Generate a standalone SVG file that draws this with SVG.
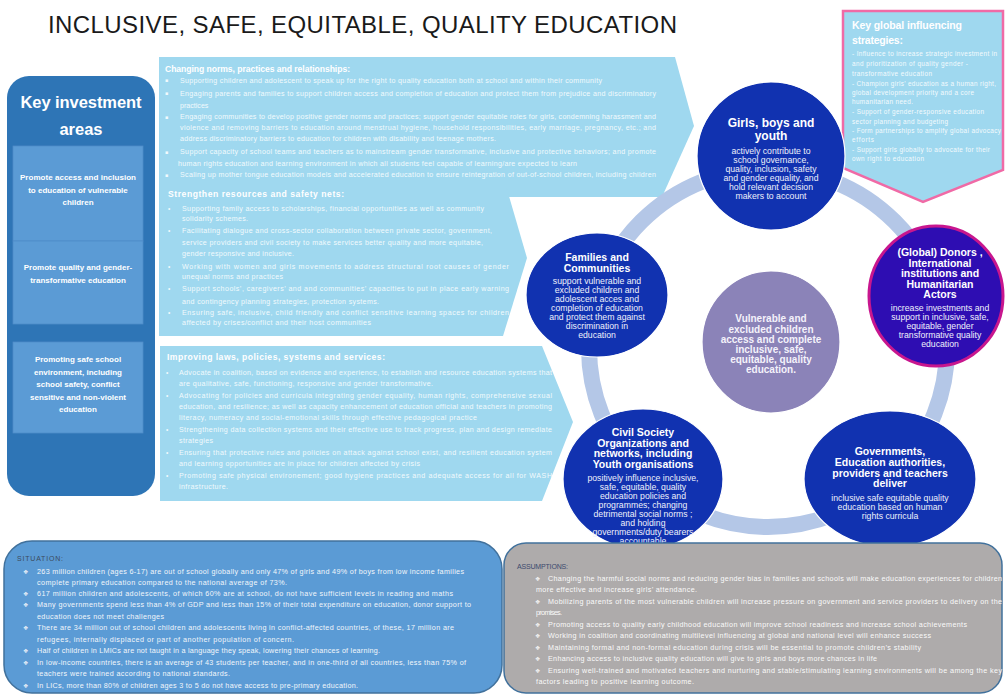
<svg xmlns="http://www.w3.org/2000/svg" width="1005" height="696" viewBox="0 0 1005 696">
<style>
text{font-family:"Liberation Sans",Arial,sans-serif}
.title{font-size:24px;fill:#1a1a1a}
.arrow{fill:#9fd8ef}
.hd{font-size:8.6px;font-weight:bold;fill:#ffffff}
.bd{font-size:7.1px;fill:#f2fafd}
.bl{font-size:6.5px;fill:#f2fafd}
.sq{font-family:"DejaVu Sans",sans-serif;font-size:5px;fill:#f2fafd}
.kg{font-size:6.4px;fill:#f4fbfe}
.kgh{font-size:10.5px;font-weight:bold;fill:#ffffff}
.panel{fill:#2e75b6}
.ibox{fill:#5b9bd5;stroke:#4f8cc8;stroke-width:0.8}
.ibt{font-size:8px;font-weight:bold;fill:#ffffff;text-anchor:middle}
.kih{font-size:16.5px;font-weight:bold;fill:#ffffff;text-anchor:middle}
.dark{fill:#1132b0;stroke:#ffffff;stroke-width:1.2}
.ct{font-size:10.5px;font-weight:bold;fill:#ffffff;text-anchor:middle}
.cb{font-size:8.7px;fill:#eef0fb;text-anchor:middle}
.vt{font-size:10px;font-weight:bold;fill:#f4f2fb;text-anchor:middle}
.st{font-size:7.2px;fill:#f2f6fb}
.dia{font-family:"DejaVu Sans",sans-serif;font-size:6px;fill:#e6eef8}
.as{font-size:7.2px;fill:#fafafa}
.adia{font-family:"DejaVu Sans",sans-serif;font-size:6px;fill:#f2f2f2}
</style>

<rect width="1005" height="696" fill="#ffffff"/>

<text class="title" x="48" y="33" textLength="629">INCLUSIVE, SAFE, EQUITABLE, QUALITY EDUCATION</text>

<!-- Left panel -->
<g id="key-investment-areas">
  <rect class="panel" x="7" y="76" width="148" height="420" rx="22"/>
  <text class="kih" x="81" y="108" textLength="121">Key investment</text>
  <text class="kih" x="81" y="135">areas</text>
  <g id="area-access">
    <rect class="ibox" x="13" y="146" width="130" height="95"/>
    <text class="ibt" x="78" y="180" textLength="116">Promote access and inclusion</text>
    <text class="ibt" x="78" y="193">to education of vulnerable</text>
    <text class="ibt" x="78" y="205">children</text>
  </g>
  <g id="area-quality">
    <rect class="ibox" x="13" y="241" width="130" height="83"/>
    <text class="ibt" x="78" y="270">Promote quality and gender-</text>
    <text class="ibt" x="78" y="283">transformative education</text>
  </g>
  <g id="area-safe">
    <rect class="ibox" x="13" y="342" width="130" height="91"/>
    <text class="ibt" x="78" y="362">Promoting safe school</text>
    <text class="ibt" x="78" y="375">environment, including</text>
    <text class="ibt" x="78" y="387">school safety, conflict</text>
    <text class="ibt" x="78" y="400">sensitive and non-violent</text>
    <text class="ibt" x="78" y="412">education</text>
  </g>
</g>

<!-- Arrow 1 -->
<g id="changing-norms">
  <polygon class="arrow" points="159,57 675,57 694,126 662,197 159,197"/>
  <text class="hd" x="165" y="72" textLength="185">Changing norms, practices and relationships:</text>
  <text class="sq" x="165" y="82">▪</text>
  <text class="bd" x="180" y="82.5" textLength="422">Supporting children and adolescent to speak up for the right to quality education both at school and within their community</text>
  <text class="sq" x="165" y="95">▪</text>
  <text class="bd" x="180" y="95.5" textLength="476">Engaging parents and families to support children access and completion of education and protect them from prejudice and discriminatory</text>
  <text class="bd" x="180" y="108">practices</text>
  <text class="sq" x="165" y="118.5">▪</text>
  <text class="bd" x="180" y="119" textLength="476">Engaging communities to develop positive gender norms and practices; support gender equitable roles for girls, condemning harassment and</text>
  <text class="bd" x="180" y="129.5" textLength="476">violence and removing barriers to education around menstrual hygiene, household responsibilities, early marriage, pregnancy, etc.; and</text>
  <text class="bd" x="180" y="141" textLength="316">address discriminatory barriers to education for children with disability and teenage mothers.</text>
  <text class="sq" x="165" y="153.5">▪</text>
  <text class="bd" x="180" y="154" textLength="476">Support capacity of school teams and teachers as to mainstream gender transformative, inclusive and protective behaviors; and promote</text>
  <text class="bd" x="178" y="166" textLength="399">human rights education and learning environment in which all students feel capable of learning/are expected to learn</text>
  <text class="sq" x="165" y="176.5">▪</text>
  <text class="bd" x="180" y="177" textLength="476">Scaling up mother tongue education models and accelerated education to ensure reintegration of out-of-school children, including children</text>
</g>

<!-- Arrow 2 -->
<g id="strengthen-resources">
  <polygon class="arrow" points="159,186 506,186 527,258 503,336 159,336"/>
  <text class="hd" x="168" y="197" textLength="176">Strengthen resources and safety nets:</text>
  <text class="bl" x="168" y="210.5">•</text>
  <text class="bd" x="182" y="210.5" textLength="302">Supporting family access to scholarships, financial opportunities as well as community</text>
  <text class="bd" x="182" y="221" textLength="66">solidarity schemes.</text>
  <text class="bl" x="168" y="233">•</text>
  <text class="bd" x="182" y="233" textLength="310">Facilitating dialogue and cross-sector collaboration between private sector, government,</text>
  <text class="bd" x="182" y="244.5" textLength="301">service providers and civil society to make services better quality and more equitable,</text>
  <text class="bd" x="182" y="256" textLength="112">gender responsive and inclusive.</text>
  <text class="bl" x="168" y="268.5">•</text>
  <text class="bd" x="182" y="268.5" textLength="327">Working with women and girls movements to address structural root causes of gender</text>
  <text class="bd" x="182" y="279" textLength="101">unequal norms and practices</text>
  <text class="bl" x="168" y="291">•</text>
  <text class="bd" x="182" y="291" textLength="327">Support schools’, caregivers’ and and communities’ capacities to put in place early warning</text>
  <text class="bd" x="182" y="303.5" textLength="197">and contingency planning strategies, protection systems.</text>
  <text class="bl" x="168" y="314.5">•</text>
  <text class="bd" x="182" y="314.5" textLength="327">Ensuring safe, inclusive, child friendly and conflict sensitive learning spaces for children</text>
  <text class="bd" x="182" y="325" textLength="189">affected by crises/conflict and their host communities</text>
</g>

<!-- Arrow 3 -->
<g id="improving-laws">
  <polygon class="arrow" points="160,346 542,346 573,422 542,501 160,501"/>
  <text class="hd" x="167" y="360" textLength="218">Improving laws, policies, systems and services:</text>
  <text class="bl" x="166" y="374.5">•</text>
  <text class="bd" x="179" y="374.5" textLength="373">Advocate in coalition, based on evidence and experience, to establish and resource education systems that</text>
  <text class="bd" x="179" y="386" textLength="254">are qualitative, safe, functioning, responsive and gender transformative.</text>
  <text class="bl" x="166" y="397.5">•</text>
  <text class="bd" x="179" y="397.5" textLength="373">Advocating for policies and curricula integrating gender equality, human rights, comprehensive sexual</text>
  <text class="bd" x="179" y="408.5" textLength="373">education, and resilience; as well as capacity enhancement of education official and teachers in promoting</text>
  <text class="bd" x="179" y="419.5" textLength="298">literacy, numeracy and social-emotional skills through effective pedagogical practice</text>
  <text class="bl" x="166" y="431.5">•</text>
  <text class="bd" x="179" y="431.5" textLength="373">Strengthening data collection systems and their effective use to track progress, plan and design remediate</text>
  <text class="bd" x="179" y="442.5" textLength="34">strategies</text>
  <text class="bl" x="166" y="454.5">•</text>
  <text class="bd" x="179" y="454.5" textLength="373">Ensuring that protective rules and policies on attack against school exist, and resilient education system</text>
  <text class="bd" x="179" y="465.5" textLength="241">and learning opportunities are in place for children affected by crisis</text>
  <text class="bl" x="166" y="477.5">•</text>
  <text class="bd" x="179" y="477.5" textLength="373">Promoting safe physical environement; good hygiene practices and adequate access for all for WASH</text>
  <text class="bd" x="179" y="488.5" textLength="49">infrastructure.</text>
</g>

<!-- Key global influencing strategies -->
<g id="key-global-strategies">
  <polygon points="843,11 1003,11 1003,170 923,202 843,168" fill="#9fd8ef" stroke="#f06aa6" stroke-width="2.5"/>
  <text class="kgh" x="852" y="29" textLength="110">Key global influencing</text>
  <text class="kgh" x="852" y="44" textLength="51">strategies:</text>
  <text class="kg" x="852" y="55.5" textLength="145">- Influence to increase strategic investment in</text>
  <text class="kg" x="852" y="65.5" textLength="116">and prioritization of quality gender -</text>
  <text class="kg" x="852" y="75.5" textLength="80">transformative education</text>
  <text class="kg" x="852" y="85.5" textLength="144">- Champion girls’ education as a human right,</text>
  <text class="kg" x="852" y="94.5" textLength="122">global development priority and a core</text>
  <text class="kg" x="852" y="103.5" textLength="61">humanitarian need.</text>
  <text class="kg" x="852" y="113.5" textLength="132">- Support of gender-responsive education</text>
  <text class="kg" x="852" y="123.5" textLength="96">sector planning and budgeting</text>
  <text class="kg" x="852" y="132.5" textLength="149">- Form partnerships to amplify global advocacy</text>
  <text class="kg" x="852" y="141.5" textLength="22">efforts</text>
  <text class="kg" x="852" y="151.5" textLength="138">- Support girls globally to advocate for their</text>
  <text class="kg" x="852" y="160.5" textLength="72">own right to education</text>
</g>

<!-- Connector ring -->
<g id="connectors">
  <circle cx="768" cy="348" r="179" fill="none" stroke="#b4c7e7" stroke-width="16"/>
</g>

<!-- Circles -->
<g id="girls-boys-youth">
  <circle class="dark" cx="771" cy="156" r="74"/>
  <text class="ct" x="771" y="127" style="font-size:12px">Girls, boys and</text>
  <text class="ct" x="771" y="139.5" style="font-size:12px">youth</text>
  <text class="cb" x="771" y="154">actively contribute to</text>
  <text class="cb" x="771" y="163">school governance,</text>
  <text class="cb" x="771" y="172">quality, inclusion, safety</text>
  <text class="cb" x="771" y="181">and gender equality, and</text>
  <text class="cb" x="771" y="190">hold relevant decision</text>
  <text class="cb" x="771" y="199">makers to account</text>
</g>

<g id="families-communities">
  <ellipse class="dark" cx="597" cy="295" rx="71" ry="62"/>
  <text class="ct" x="597" y="261">Families and</text>
  <text class="ct" x="597" y="271.5">Communities</text>
  <text class="cb" x="597" y="284">support vulnerable and</text>
  <text class="cb" x="597" y="293">excluded children and</text>
  <text class="cb" x="597" y="302">adolescent acces and</text>
  <text class="cb" x="597" y="311">completion of education</text>
  <text class="cb" x="597" y="320">and protect them against</text>
  <text class="cb" x="597" y="329">discrimination in</text>
  <text class="cb" x="597" y="338">education</text>
</g>

<g id="vulnerable-children">
  <ellipse cx="771" cy="342" rx="69" ry="71" fill="#8b83b8" stroke="#ffffff" stroke-width="1.2"/>
  <text class="vt" x="771" y="322">Vulnerable and</text>
  <text class="vt" x="771" y="332.5">excluded children</text>
  <text class="vt" x="771" y="342.5">access and complete</text>
  <text class="vt" x="771" y="352.5">inclusive, safe,</text>
  <text class="vt" x="771" y="362.5">equitable, quality</text>
  <text class="vt" x="771" y="372.5">education.</text>
</g>

<g id="donors">
  <ellipse cx="936" cy="296" rx="67" ry="70" fill="#2e0db2" stroke="#c8168e" stroke-width="3"/>
  <text class="ct" x="940" y="256">(Global) Donors ,</text>
  <text class="ct" x="940" y="266.5">International</text>
  <text class="ct" x="940" y="277">institutions and</text>
  <text class="ct" x="940" y="287.5">Humanitarian</text>
  <text class="ct" x="940" y="298">Actors</text>
  <text class="cb" x="940" y="311">increase investments and</text>
  <text class="cb" x="940" y="320">support in inclusive, safe,</text>
  <text class="cb" x="940" y="329">equitable, gender</text>
  <text class="cb" x="940" y="338">transformative quality</text>
  <text class="cb" x="940" y="347">education</text>
</g>

<g id="civil-society">
  <ellipse class="dark" cx="643" cy="479" rx="80" ry="70"/>
  <text class="ct" x="643" y="436">Civil Society</text>
  <text class="ct" x="643" y="446.5">Organizations and</text>
  <text class="ct" x="643" y="457">networks, including</text>
  <text class="ct" x="643" y="467.5">Youth organisations</text>
  <text class="cb" x="643" y="481">positively influence inclusive,</text>
  <text class="cb" x="643" y="490">safe, equitable, quality</text>
  <text class="cb" x="643" y="499">education policies and</text>
  <text class="cb" x="643" y="508">programmes; changing</text>
  <text class="cb" x="643" y="517">detrimental social norms ;</text>
  <text class="cb" x="643" y="526">and holding</text>
  <text class="cb" x="643" y="535">governments/duty bearers</text>
  <text class="cb" x="643" y="544">accountable</text>
</g>

<g id="governments">
  <ellipse class="dark" cx="890" cy="479" rx="86" ry="68"/>
  <text class="ct" x="890" y="455">Governments,</text>
  <text class="ct" x="890" y="466">Education authorities,</text>
  <text class="ct" x="890" y="476.5">providers and teachers</text>
  <text class="ct" x="890" y="487">deliver</text>
  <text class="cb" x="890" y="501">inclusive safe equitable quality</text>
  <text class="cb" x="890" y="510">education based on human</text>
  <text class="cb" x="890" y="518.5">rights curricula</text>
</g>

<!-- Situation -->
<g id="situation">
  <rect x="4" y="541" width="498" height="152" rx="28" fill="#5b9bd5" stroke="#41719c" stroke-width="1.5"/>
  <text x="17" y="560.5" style="font-size:7px;fill:#3c4b5c" textLength="46">SITUATION:</text>
  <text class="dia" x="23" y="573.5">❖</text>
  <text class="st" x="37" y="573.5" textLength="427">263 million children (ages 6-17) are out of school globally and only 47% of girls and 49% of boys from low income families</text>
  <text class="st" x="37" y="584.5" textLength="250">complete primary education compared to the national average of 73%.</text>
  <text class="dia" x="23" y="595.5">❖</text>
  <text class="st" x="37" y="595.5" textLength="416">617 million children and adolescents, of which 60% are at school, do not have sufficient levels in reading and maths</text>
  <text class="dia" x="23" y="606.5">❖</text>
  <text class="st" x="37" y="606.5" textLength="434">Many governments spend less than 4% of GDP and less than 15% of their total expenditure on education, donor support to</text>
  <text class="st" x="37" y="618.5" textLength="127">education does not meet challenges</text>
  <text class="dia" x="23" y="629.5">❖</text>
  <text class="st" x="37" y="629.5" textLength="417">There are 34 million out of school children and adolescents living in conflict-affected countries, of these, 17 million are</text>
  <text class="st" x="37" y="641.5" textLength="257">refugees, internally displaced or part of another population of concern.</text>
  <text class="dia" x="23" y="652.5">❖</text>
  <text class="st" x="37" y="652.5" textLength="343">Half of children in LMICs are not taught in a language they speak, lowering their chances of learning.</text>
  <text class="dia" x="23" y="664.5">❖</text>
  <text class="st" x="37" y="664.5" textLength="429">In low-income countries, there is an average of 43 students per teacher, and in one-third of all countries, less than 75% of</text>
  <text class="st" x="37" y="675.5" textLength="193">teachers were trained according to national standards.</text>
  <text class="dia" x="23" y="687.5">❖</text>
  <text class="st" x="37" y="687.5" textLength="321">In LICs, more than 80% of children ages 3 to 5 do not have access to pre-primary education.</text>
</g>

<!-- Assumptions -->
<g id="assumptions">
  <rect x="504" y="543" width="498" height="150" rx="22" fill="#aeabab" stroke="#41719c" stroke-width="1.5"/>
  <text x="517" y="568.5" style="font-size:7px;fill:#3c4a6e" textLength="51">ASSUMPTIONS:</text>
  <text class="adia" x="535" y="580.5">❖</text>
  <text class="as" x="548" y="580.5" textLength="454">Changing the harmful social norms and reducing gender bias in families and schools will make education experiences for children</text>
  <text class="as" x="536" y="591.5" textLength="161">more effective and increase girls’ attendance.</text>
  <text class="adia" x="535" y="603.5">❖</text>
  <text class="as" x="548" y="603.5" textLength="454">Mobilizing parents of the most vulnerable children will increase pressure on government and service providers to delivery on the</text>
  <text class="as" x="536" y="614.5" textLength="26">promises.</text>
  <text class="adia" x="535" y="626.5">❖</text>
  <text class="as" x="548" y="626.5" textLength="419">Promoting access to quality early childhood education will improve school readiness and increase school achievements</text>
  <text class="adia" x="535" y="637.5">❖</text>
  <text class="as" x="548" y="637.5" textLength="383">Working in coalition and coordinating multilevel influencing at global and national level will enhance success</text>
  <text class="adia" x="535" y="649.5">❖</text>
  <text class="as" x="548" y="649.5" textLength="373">Maintaining formal and non-formal education during crisis will be essential to promote children’s stability</text>
  <text class="adia" x="535" y="660.5">❖</text>
  <text class="as" x="548" y="660.5" textLength="329">Enhancing access to inclusive quality education will give to girls and boys more chances in life</text>
  <text class="adia" x="535" y="672.5">❖</text>
  <text class="as" x="548" y="672.5" textLength="454">Ensuring well-trained and motivated teachers and nurturing and stable/stimulating learning environments will be among the key</text>
  <text class="as" x="536" y="683.5" textLength="158">factors leading to positive learning outcome.</text>
</g>
</svg>
